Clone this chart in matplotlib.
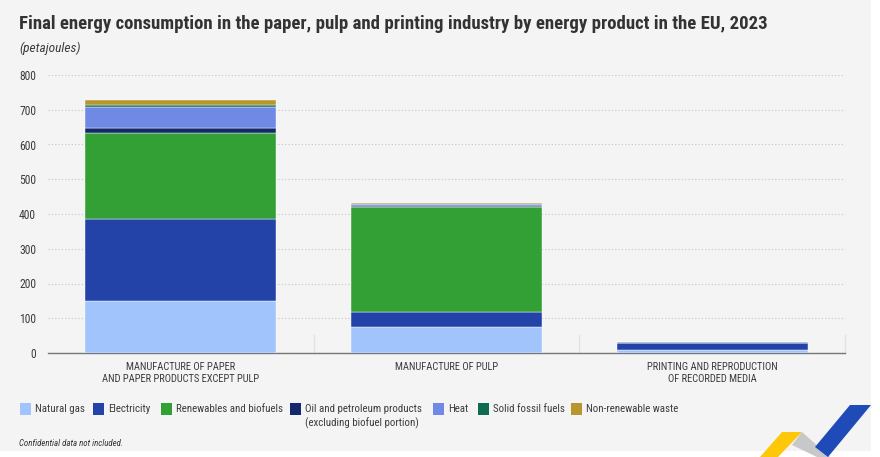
import matplotlib
matplotlib.use("Agg")
import matplotlib.pyplot as plt
from matplotlib.patches import Polygon, Rectangle
import numpy as np

categories = ['MANUFACTURE OF PAPER\nAND PAPER PRODUCTS EXCEPT PULP',
              'MANUFACTURE OF PULP',
              'PRINTING AND REPRODUCTION\nOF RECORDED MEDIA']
natural_gas = [151, 76, 9]
electricity = [235, 41, 20]
renewables = [247, 303, 1]
oil = [15, 3, 1]
heat = [59, 6, 2]
solid_fossil = [8, 1, 0]
non_renewable = [14, 1, 0]

series = [natural_gas, electricity, renewables, oil, heat, solid_fossil, non_renewable]
colors = ['#a0c4fb', '#2443a8', '#32a035', '#14286e', '#7089e4', '#0e6b50', '#b8962e']
y_ticks = [0, 100, 200, 300, 400, 500, 600, 700, 800]

W, H = 880, 457
BG = '#f4f4f4'
TXT = '#3c3c3c'
NARROW = ['Roboto Condensed', 'DejaVu Sans']


def fx(px):
    return px / W


def fy(py):
    return 1 - py / H


fig = plt.figure(figsize=(8.8, 4.57), dpi=100, facecolor='white')
# grey panel, the bottom and right edge of the image stay white
fig.patches.append(Rectangle((0, fy(451)), fx(871), 1 - fy(451), transform=fig.transFigure,
                             facecolor=BG, edgecolor='none', zorder=-5))

ax = fig.add_axes([fx(48), fy(353), fx(797), fy(75) - fy(353)])
ax.patch.set_alpha(0)
x = np.arange(3)
bottom = np.zeros(3)
for vals, c in zip(series, colors):
    ax.bar(x, vals, width=0.72, bottom=bottom, color=c, edgecolor='white', linewidth=0.3, zorder=3)
    bottom += np.array(vals)

ax.set_xlim(-0.5, 2.5)
ax.set_ylim(0, 800)
ax.set_yticks(y_ticks)
ax.set_xticks(x)
ax.set_xticklabels(categories, family=NARROW, fontsize=7.6, color=TXT, linespacing=1.3)
ax.tick_params(axis='x', length=0, pad=6.5)
ax.tick_params(axis='y', length=0, pad=8.6, labelsize=8.4, labelcolor=TXT)
for lab in ax.get_yticklabels():
    lab.set_family(NARROW)
ax.grid(axis='y', color='#c4c4c4', linestyle=(0, (1, 2)), linewidth=0.8, zorder=0)
for s in ['top', 'left', 'right']:
    ax.spines[s].set_visible(False)
ax.spines['bottom'].set_color('#777777')
ax.spines['bottom'].set_linewidth(1)
# short separators between the groups
for sep in [0.5, 1.5, 2.5]:
    ax.plot([sep, sep], [0, 52], color='#e2e2e2', linewidth=1, zorder=1, clip_on=False)

fig.text(fx(19), fy(24), 'Final energy consumption in the paper, pulp and printing industry by energy product in the EU, 2023',
         family=NARROW, fontsize=13.5, fontweight='bold', color='#333333', va='center')
fig.text(fx(19), fy(48), '(petajoules)', family=NARROW, fontsize=9.6, style='italic', color=TXT, va='center')

legend_labels = ['Natural gas', 'Electricity', 'Renewables and biofuels',
                 'Oil and petroleum products\n(excluding biofuel portion)',
                 'Heat', 'Solid fossil fuels', 'Non-renewable waste']
legend_x = [20, 93, 161, 290, 433, 478, 571]
for lx, lab, c in zip(legend_x, legend_labels, colors):
    fig.patches.append(Rectangle((fx(lx), fy(415)), fx(11), fy(403) - fy(415), transform=fig.transFigure,
                                 facecolor=c, edgecolor='none'))
    fig.text(fx(lx + 15), fy(403.5), lab, family=NARROW, fontsize=7.8, color=TXT, va='top', linespacing=1.4)

fig.text(fx(19), fy(443), 'Confidential data not included.', family=NARROW, fontsize=6.4, style='italic',
         color='#333333', va='center')

# logo in the corner
logo = [([760, 782, 802, 778], [457, 432, 432, 457], '#fdc80a'),
        ([792, 802, 830, 817], [445, 432, 457, 457], '#c6c8ca'),
        ([815, 850, 871, 828], [447, 405, 405, 457], '#1f4bb8')]
for xs, ys, c in logo:
    fig.patches.append(Polygon([(fx(a), fy(b)) for a, b in zip(xs, ys)], closed=True,
                               transform=fig.transFigure, facecolor=c, edgecolor='none'))

fig.savefig('out.png', dpi=100, facecolor='white')
